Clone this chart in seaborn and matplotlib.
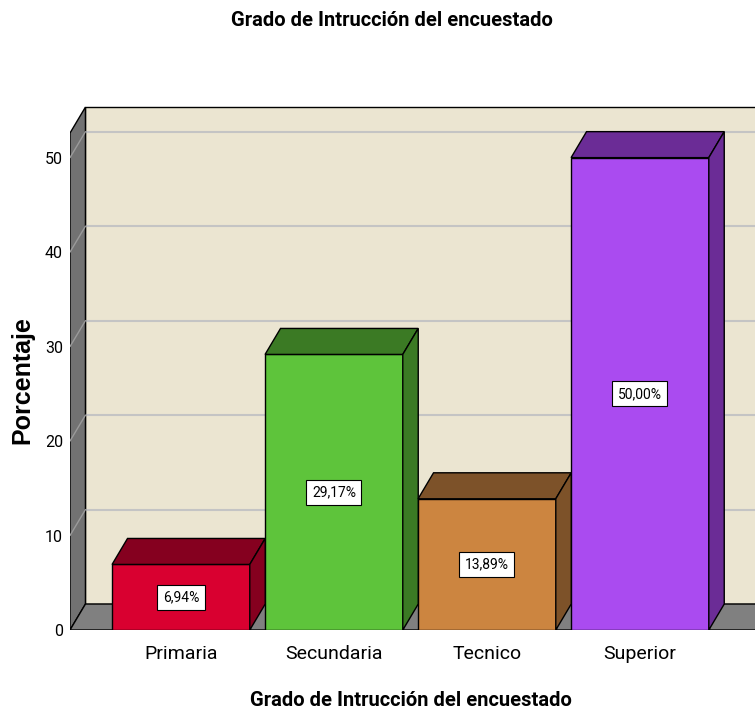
"""SPSS-style 3D bar chart: Grado de Intrucción del encuestado."""

import matplotlib
matplotlib.use("Agg")
import matplotlib.pyplot as plt
from matplotlib.patches import Polygon
import seaborn as sns

categories = ["Primaria", "Secundaria", "Tecnico", "Superior"]
values = [6.94, 29.17, 13.89, 50.00]
front_colors = ["#d90030", "#5ec43b", "#cc8540", "#aa4bf0"]
depth_colors = ["#85001f", "#3b7a24", "#7d5229", "#6b2c96"]
y_ticks = [0, 10, 20, 30, 40, 50]
title = "Grado de Intrucción del encuestado"

NARROW = ["Roboto", "DejaVu Sans"]
WIDE = ["Liberation Sans", "DejaVu Sans"]

sns.set_theme(style="white")
plt.rcParams["font.family"] = NARROW
plt.rcParams["text.color"] = "black"
plt.rcParams["xtick.color"] = "black"
plt.rcParams["ytick.color"] = "black"

W, H = 755, 714
fig = plt.figure(figsize=(W / 100, H / 100), dpi=100)
ax = fig.add_axes([70 / W, (H - 630) / H, 685 / W, 530 / H])

sns.barplot(x=categories, y=values, hue=categories, palette=front_colors,
            width=0.9, legend=False, edgecolor="black", linewidth=1.0,
            saturation=1, ax=ax)
bars = list(ax.patches)

xl, xr = -0.725, 3.752
ytop = 52.6
dx, dy = 0.101, 2.75

# walls and floor
ax.add_patch(Polygon([(xl + dx, dy), (xr + 2, dy), (xr + 2, ytop + dy), (xl + dx, ytop + dy)],
                     closed=True, fc="#ebe5d1", ec="black", lw=1.0, zorder=0))
ax.add_patch(Polygon([(xl, 0), (xl, ytop), (xl + dx, ytop + dy), (xl + dx, dy)],
                     closed=True, fc="#727272", ec="black", lw=1.0, zorder=1))
ax.add_patch(Polygon([(xl, 0), (xr + 2, 0), (xr + 2 + dx, dy), (xl + dx, dy)],
                     closed=True, fc="#808080", ec="black", lw=1.0, zorder=1))

for v in y_ticks[1:]:
    ax.plot([xl + dx, xr + 2], [v + dy, v + dy], color="#c4c4c4", lw=1.5, zorder=0.5)
    ax.plot([xl, xl + dx], [v, v + dy], color="#9a9a9a", lw=1.0, zorder=1.5)

for bar, val, dc in zip(bars, values, depth_colors):
    x0, w, h = bar.get_x(), bar.get_width(), bar.get_height()
    bar.set_zorder(3)
    ax.add_patch(Polygon([(x0, h), (x0 + w, h), (x0 + w + dx, h + dy), (x0 + dx, h + dy)],
                         closed=True, fc=dc, ec="black", lw=1.0, zorder=3))
    ax.add_patch(Polygon([(x0 + w, 0), (x0 + w, h), (x0 + w + dx, h + dy), (x0 + w + dx, dy)],
                         closed=True, fc=dc, ec="black", lw=1.0, zorder=3))
    label = f"{val:.2f}".replace(".", ",") + "%"
    ax.text(x0 + w / 2, h / 2, label, ha="center", va="center", fontsize=10,
            color="black", zorder=5,
            bbox=dict(boxstyle="square,pad=0.4", fc="white", ec="black", lw=0.8))

ax.set_xlim(xl, xr)
ax.set_ylim(0, 56.1)
ax.set_yticks(y_ticks)
ax.set_yticklabels([str(t) for t in y_ticks], fontsize=11.5)
ax.tick_params(axis="y", length=0, pad=5)
ax.tick_params(axis="x", length=0, pad=11, labelsize=14)
ax.set_xlabel("")
ax.set_ylabel("")
for s in ax.spines.values():
    s.set_visible(False)
ax.set_facecolor("none")

fig.text(392 / W, 1 - 21 / H, title, ha="center", va="center",
         fontsize=14.5, fontweight="bold")
fig.text(411 / W, 1 - 701 / H, title, ha="center", va="center",
         fontsize=14.5, fontweight="bold")
fig.text(22 / W, 1 - 380 / H, "Porcentaje", ha="center", va="center",
         rotation=90, fontsize=18, fontweight="bold", family=WIDE)

fig.savefig("out.png", dpi=100)
